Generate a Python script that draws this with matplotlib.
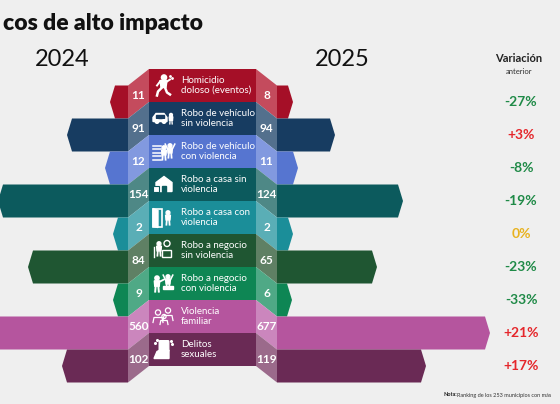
import matplotlib
matplotlib.use('Agg')
import matplotlib.pyplot as plt
from matplotlib.patches import Polygon, Circle, Rectangle, FancyBboxPatch

plt.rcParams['font.family'] = ['Lato', 'DejaVu Sans']

# data
categories = ['Homicidio\ndoloso (eventos)', 'Robo de vehículo\nsin violencia',
              'Robo de vehículo\ncon violencia', 'Robo a casa sin\nviolencia',
              'Robo a casa con\nviolencia', 'Robo a negocio\nsin violencia',
              'Robo a negocio\ncon violencia', 'Violencia\nfamiliar', 'Delitos\nsexuales']
val_2024 = [11, 91, 12, 154, 2, 84, 9, 560, 102]
val_2025 = [8, 94, 11, 124, 2, 65, 6, 677, 119]
variation = ['-27%', '+3%', '-8%', '-19%', '0%', '-23%', '-33%', '+21%', '+17%']
# the graphic is not drawn to scale: drawn bar lengths
len_2024 = [18, 61, 23, 130, 15, 100, 15, 175, 66]
len_2025 = [16, 58, 21, 126, 16, 100, 15, 213, 149]

dark = ['#a50f27', '#173c61', '#5675d0', '#0c5a5d', '#1b8e99',
        '#1f5632', '#0e8654', '#b5559e', '#6a2a55']
light = ['#c44b5d', '#53708d', '#8299df', '#4e8886', '#5aaeb6',
         '#5f8064', '#4fa986', '#cb86bd', '#9b6a8b']

W, H = 560, 404
fig = plt.figure(figsize=(W / 100, H / 100), dpi=100)
fig.patch.set_facecolor('#efefef')
ax = fig.add_axes([0, 0, 1, 1])
ax.set_xlim(0, W)
ax.set_ylim(H, 0)
ax.axis('off')

top0, row_h, shift = 69, 33, 16.5
box_l, box_r, fold = 149, 256, 21
xl, xr = box_l - fold, box_r + fold
tipd = 5


def person(x, y, s=1.0, arms_up=False, fill=True):
    if fill:
        ax.add_patch(Circle((x, y - 6 * s), 2.4 * s, color='white', zorder=5))
        ax.add_patch(Polygon([(x - 3 * s, y - 3 * s), (x + 3 * s, y - 3 * s),
                              (x + 2.5 * s, y + 3 * s), (x - 2.5 * s, y + 3 * s)],
                             color='white', zorder=5))
        ax.plot([x - 1.5 * s, x - 2 * s], [y + 3 * s, y + 9 * s], color='white', lw=1.6 * s, zorder=5)
        ax.plot([x + 1.5 * s, x + 2 * s], [y + 3 * s, y + 9 * s], color='white', lw=1.6 * s, zorder=5)
        if arms_up:
            ax.plot([x - 3 * s, x - 6 * s], [y - 2 * s, y - 8 * s], color='white', lw=1.4 * s, zorder=5)
            ax.plot([x + 3 * s, x + 6 * s], [y - 2 * s, y - 8 * s], color='white', lw=1.4 * s, zorder=5)
    else:
        ax.add_patch(Circle((x, y - 5 * s), 2.6 * s, fill=False, ec='white', lw=0.9, zorder=5))
        ax.plot([x - 5 * s, x - 4 * s, x + 4 * s, x + 5 * s],
                [y + 5 * s, y, y, y + 5 * s], color='white', lw=0.9, zorder=5)


def draw_icon(i, x, y):
    if i == 0:
        ax.add_patch(Circle((x + 1, y - 8), 2.6, color='white', zorder=5))
        ax.add_patch(Polygon([(x - 3, y - 5), (x + 4, y - 5), (x + 3, y + 2), (x - 2, y + 2)],
                             color='white', zorder=5))
        ax.plot([x - 1, x - 5, x - 6], [y + 2, y + 6, y + 10], color='white', lw=1.8, zorder=5)
        ax.plot([x + 2, x + 4, x + 7], [y + 2, y + 7, y + 9], color='white', lw=1.8, zorder=5)
        ax.plot([x - 3, x - 6], [y - 4, y], color='white', lw=1.4, zorder=5)
        ax.plot([x + 4, x + 7], [y - 4, y - 6], color='white', lw=1.4, zorder=5)
        ax.plot([x + 7, x + 9], [y - 10, y - 8], 'o', color='white', ms=1, zorder=5)
    elif i == 1:
        ax.add_patch(Polygon([(x - 10, y + 3), (x - 10, y - 1), (x - 7, y - 5), (x + 1, y - 5),
                              (x + 4, y - 1), (x + 4, y + 3)], color='white', zorder=5))
        ax.add_patch(Rectangle((x - 7, y - 4), 8, 3, color=dark[i], zorder=6))
        ax.add_patch(Circle((x - 6, y + 3), 1.8, color='white', zorder=6))
        ax.add_patch(Circle((x + 1, y + 3), 1.8, color='white', zorder=6))
        person(x + 8, y, 0.6)
    elif i == 2:
        for k in range(5):
            ax.plot([x - 10, x - 2], [y - 6 + 3.5 * k, y - 6 + 3.5 * k], color='white', lw=1.1, zorder=5)
        person(x + 1, y + 1, 0.8)
        person(x + 7, y - 1, 0.8, arms_up=True)
    elif i == 3:
        ax.add_patch(Polygon([(x - 7, y + 7), (x - 7, y - 2), (x + 1, y - 8), (x + 9, y - 2),
                              (x + 9, y + 7)], color='white', zorder=5))
        ax.add_patch(Rectangle((x - 1, y + 1), 4, 6, color=dark[i], zorder=6))
        ax.add_patch(Rectangle((x - 10, y + 1), 6, 6, color='white', ec=dark[i], lw=0.8, zorder=7))
    elif i == 4:
        ax.add_patch(Rectangle((x - 10, y - 9), 9, 18, fill=False, ec='white', lw=1.2, zorder=5))
        ax.add_patch(Polygon([(x - 10, y - 9), (x - 5, y - 7), (x - 5, y + 10), (x - 10, y + 9)],
                             color='white', zorder=5))
        person(x + 5, y, 0.8)
    elif i == 5:
        person(x - 4, y - 2, 0.8)
        ax.add_patch(Rectangle((x - 1, y - 1), 9, 7, fill=False, ec='white', lw=1.0, zorder=5))
        ax.add_patch(Circle((x + 4, y - 7), 3, fill=False, ec='white', lw=1.0, zorder=5))
        ax.plot([x - 9, x - 9], [y - 4, y + 6], color='white', lw=1.0, zorder=5)
    elif i == 6:
        person(x - 6, y, 0.9)
        ax.plot([x - 3, x + 1], [y - 2, y - 4], color='white', lw=1.3, zorder=5)
        person(x + 5, y - 2, 0.8, arms_up=True)
        ax.add_patch(Rectangle((x, y + 2), 10, 3, color='white', zorder=5))
    elif i == 7:
        person(x - 5, y + 1, 1.0, fill=False)
        person(x + 5, y - 1, 1.0, fill=False)
        person(x + 1, y + 4, 0.8, fill=False)
    elif i == 8:
        ax.add_patch(FancyBboxPatch((x - 3, y - 8), 8, 9, boxstyle='round,pad=0.8',
                                    color='white', zorder=5))
        ax.add_patch(Polygon([(x - 9, y + 9), (x - 6, y + 2), (x - 2, y), (x + 6, y + 1),
                              (x + 6, y + 9)], color='white', zorder=5))
        for dx, dy in [(-8, -7), (-6, -10), (8, -9), (9, -6)]:
            ax.plot(x + dx, y + dy, 'o', color='white', ms=1.2, zorder=5)


for i, cat in enumerate(categories):
    t = top0 + i * row_h
    b = t + row_h
    ts, bs, ms = t + shift, b + shift, t + shift + row_h / 2

    # outer bars with pointed ends
    tl = xl - len_2024[i]
    ax.add_patch(Polygon([(xl, ts), (tl + tipd, ts), (tl, ms), (tl + tipd, bs), (xl, bs)],
                         closed=True, color=dark[i], lw=0, zorder=1))
    tr = xr + len_2025[i]
    ax.add_patch(Polygon([(xr, ts), (tr - tipd, ts), (tr, ms), (tr - tipd, bs), (xr, bs)],
                         closed=True, color=dark[i], lw=0, zorder=1))

    # folds
    ax.add_patch(Polygon([(box_l, t), (box_l, b), (xl, bs), (xl, ts)], closed=True,
                         color=light[i], lw=0, zorder=2))
    ax.add_patch(Polygon([(box_r, t), (box_r, b), (xr, bs), (xr, ts)], closed=True,
                         color=light[i], lw=0, zorder=2))

    # center box
    ax.add_patch(Rectangle((box_l, t), box_r - box_l, row_h, color=dark[i], lw=0, zorder=2))

    ynum = t + row_h / 2 + shift / 2 + 1.5
    ax.text((xl + box_l) / 2, ynum, str(val_2024[i]), color='white', fontsize=8.5,
            fontweight='bold', ha='center', va='center', zorder=4)
    ax.text((xr + box_r) / 2, ynum, str(val_2025[i]), color='white', fontsize=8.5,
            fontweight='bold', ha='center', va='center', zorder=4)

    ax.text(181, t + row_h / 2, cat, color='white', fontsize=7, ha='left', va='center',
            linespacing=1.05, zorder=4)
    draw_icon(i, 163, t + row_h / 2)

    v = variation[i]
    vc = '#1f8a47' if v.startswith('-') else ('#e5262b' if v.startswith('+') else '#e8b21f')
    ax.text(521, ms, v, color=vc, fontsize=10, fontweight='bold', ha='center', va='center')

ax.text(203, 30, 'cos de alto impacto', fontsize=16.5, fontweight='heavy', color='#111111',
        ha='right', va='baseline')
ax.text(62, 60, '2024', fontsize=17, color='#111111', ha='center', va='center')
ax.text(342, 60, '2025', fontsize=17, color='#111111', ha='center', va='center')
ax.text(519, 58, 'Variación', fontsize=8, fontweight='bold', color='#222222', ha='center', va='center')
ax.text(519, 71, 'anterior', fontsize=5.5, color='#333333', ha='center', va='center')
ax.text(443, 395, 'Nota:', fontsize=4, fontweight='bold', color='#222222', ha='left', va='center')
ax.text(457, 395, 'Ranking de los 253 municipios con más', fontsize=4, color='#333333',
        ha='left', va='center')

fig.savefig('out.png', dpi=100, facecolor=fig.get_facecolor())
